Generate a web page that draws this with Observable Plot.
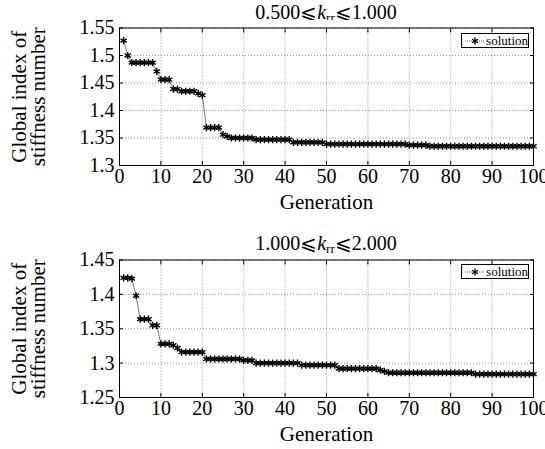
<!DOCTYPE html>
<html><head><meta charset="utf-8">
<script src="https://cdn.jsdelivr.net/npm/d3@7"></script>
<script src="https://cdn.jsdelivr.net/npm/@observablehq/plot@0.6"></script>
<style>
body{margin:0;background:#fff;width:545px;height:449px;position:relative;overflow:hidden;font-family:"Liberation Serif","Times New Roman",serif;}
.title{position:absolute;left:119px;width:414px;text-align:center;font-size:20px;line-height:20px;color:#000;white-space:nowrap;}
.title sub{font-size:13px;vertical-align:-3px;line-height:0;}
.panel{position:absolute;left:0;}
.legend{position:absolute;left:461px;width:66px;height:13px;border:1px solid #000;background:#fff;font-size:13px;line-height:13px;display:flex;align-items:center;}
.legend svg{margin-left:2px;margin-right:1px;}
</style></head>
<body>
<div class="title" style="top:2px">0.500⩽<i>k</i><sub>rr</sub>⩽1.000</div>
<div class="panel" id="p1" style="top:20px"></div>
<div class="title" style="top:233px">1.000⩽<i>k</i><sub>rr</sub>⩽2.000</div>
<div class="panel" id="p2" style="top:253px"></div>
<div class="legend" style="top:33px"><svg width="22" height="10"><line x1="1" x2="21" y1="5" y2="5" stroke="#000" stroke-width="0.6" stroke-dasharray="1,1"/><path d="M11,1.5V8.5M8,3.2L14,6.8M8,6.8L14,3.2" stroke="#000" stroke-width="1.3"/></svg>solution</div>
<div class="legend" style="top:264px"><svg width="22" height="10"><line x1="1" x2="21" y1="5" y2="5" stroke="#000" stroke-width="0.6" stroke-dasharray="1,1"/><path d="M11,1.5V8.5M8,3.2L14,6.8M8,6.8L14,3.2" stroke="#000" stroke-width="1.3"/></svg>solution</div>
<script>
// Generation index (x)
const generations = d3.range(1, 101);
const xTicks = [0,10,20,30,40,50,60,70,80,90,100];

// Panel 1: 0.500 <= k_rr <= 1.000
const solution1 = [
1.527,1.500,1.487,1.487,1.487,1.487,1.487,1.487,1.471,1.456,
1.456,1.456,1.439,1.439,1.435,1.435,1.435,1.435,1.431,1.428,
1.369,1.369,1.369,1.369,1.356,1.353,1.350,1.350,1.350,1.350,
1.350,1.350,1.347,1.347,1.347,1.347,1.347,1.347,1.347,1.347,
1.347,1.342,1.342,1.342,1.342,1.342,1.342,1.342,1.342,1.339,
1.339,1.339,1.339,1.339,1.339,1.339,1.339,1.339,1.339,1.339,
1.339,1.339,1.339,1.339,1.339,1.339,1.339,1.339,1.339,1.337,
1.337,1.337,1.337,1.337,1.335,1.335,1.335,1.335,1.335,1.335,
1.335,1.335,1.335,1.335,1.335,1.335,1.335,1.335,1.335,1.335,
1.335,1.335,1.335,1.335,1.335,1.335,1.335,1.335,1.335,1.335];
const yTicks1 = [1.3,1.35,1.4,1.45,1.5,1.55];

// Panel 2: 1.000 <= k_rr <= 2.000
const solution2 = [
1.424,1.424,1.423,1.398,1.364,1.364,1.364,1.355,1.355,1.328,
1.328,1.328,1.326,1.322,1.316,1.316,1.316,1.316,1.316,1.316,
1.306,1.306,1.306,1.306,1.306,1.306,1.306,1.306,1.306,1.304,
1.304,1.304,1.300,1.300,1.300,1.300,1.300,1.300,1.300,1.300,
1.300,1.300,1.300,1.297,1.297,1.297,1.297,1.297,1.297,1.297,
1.297,1.297,1.292,1.292,1.292,1.292,1.292,1.292,1.292,1.292,
1.292,1.292,1.290,1.288,1.286,1.286,1.286,1.286,1.286,1.286,
1.286,1.286,1.286,1.286,1.286,1.286,1.286,1.286,1.286,1.286,
1.286,1.286,1.286,1.286,1.286,1.284,1.284,1.284,1.284,1.284,
1.284,1.284,1.284,1.284,1.284,1.284,1.284,1.284,1.284,1.284];
const yTicks2 = [1.25,1.3,1.35,1.4,1.45];

const fmt = d => String(+d.toFixed(2));

function panel(values, yDomain, yTicks, mt, h) {
  const data = generations.map((g, i) => ({g, v: values[i]}));
  return Plot.plot({
    width: 545, height: h,
    marginLeft: 119, marginRight: 12, marginTop: mt, marginBottom: h - mt - 137.5,
    style: {fontFamily: '"Liberation Serif","Times New Roman",serif', fontSize: "20px", color: "#000", background: "#fff", overflow: "visible"},
    x: {domain: [0, 100]},
    y: {domain: yDomain},
    marks: [
      Plot.gridX(xTicks, {stroke: "#777", strokeOpacity: 1, strokeDasharray: "1,2", strokeWidth: 0.8}),
      Plot.gridY(yTicks, {stroke: "#777", strokeOpacity: 1, strokeDasharray: "1,2", strokeWidth: 0.8}),
      Plot.axisX(xTicks, {tickSize: 0, tickPadding: 3, tickFormat: d => String(d), fontSize: 20, label: null}),
      Plot.axisX(xTicks, {tickSize: -4, text: null, label: null}),
      Plot.axisX(xTicks, {anchor: "top", tickSize: -4, text: null, label: null}),
      Plot.axisY(yTicks, {tickSize: 0, tickPadding: 5, tickFormat: fmt, fontSize: 20, label: null}),
      Plot.axisY(yTicks, {tickSize: -4, text: null, label: null}),
      Plot.axisY(yTicks, {anchor: "right", tickSize: -4, text: null, label: null}),
      Plot.line(data, {x: "g", y: "v", stroke: "#000", strokeWidth: 0.6, strokeDasharray: "1,1"}),
      Plot.dot(data, {x: "g", y: "v", symbol: "asterisk", r: 3.4, stroke: "#000", strokeWidth: 1.4}),
      Plot.frame({stroke: "#000", strokeWidth: 1}),
      Plot.text(["Generation"], {frameAnchor: "bottom", lineAnchor: "middle", textAnchor: "middle", dy: 37, fontSize: 21, fill: "#000"}),
      Plot.text(["Global index of\nstiffness number"], {frameAnchor: "left", textAnchor: "middle", lineAnchor: "middle", dx: -90, rotate: -90, fontSize: 21, lineHeight: 0.92, fill: "#000"})
    ]
  });
}

document.getElementById("p1").appendChild(panel(solution1, [1.3, 1.55], yTicks1, 7.5, 195));
document.getElementById("p2").appendChild(panel(solution2, [1.25, 1.45], yTicks2, 6.5, 196));
</script>
</body></html>
